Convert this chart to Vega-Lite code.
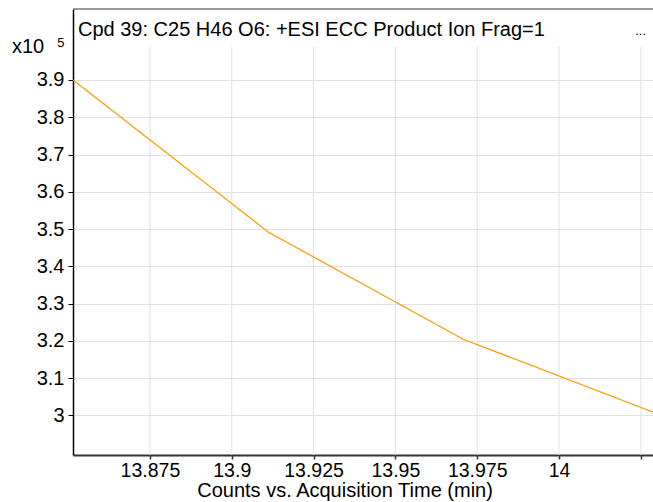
{
  "$schema": "https://vega.github.io/schema/vega-lite/v6.json",
  "width": 580,
  "height": 446,
  "autosize": {"type": "none"},
  "padding": {"left": 73, "top": 9, "right": 0, "bottom": 47},
  "background": "white",
  "config": {"view": {"stroke": null}, "font": "Liberation Sans"},
  "datasets": {
    "trace": [
      {"time": 13.8515, "counts": 390000},
      {"time": 13.9111, "counts": 349200},
      {"time": 13.9707, "counts": 320400},
      {"time": 14.0303, "counts": 300300}
    ],
    "xticks": [
      {"time": 13.875}, {"time": 13.9}, {"time": 13.925}, {"time": 13.95},
      {"time": 13.975}, {"time": 14.0}, {"time": 14.025}
    ]
  },
  "layer": [
    {
      "data": {"name": "xticks"},
      "mark": {"type": "rule", "color": "#e2e2e2", "strokeWidth": 1},
      "encoding": {
        "x": {"field": "time", "type": "quantitative",
              "scale": {"domain": [13.8515, 14.0287], "nice": false, "zero": false}},
        "y": {"datum": 289330, "type": "quantitative",
              "scale": {"domain": [289330, 409060], "nice": false, "zero": false}},
        "y2": {"datum": 398900}
      }
    },
    {
      "data": {"name": "trace"},
      "mark": {"type": "line", "color": "#ff9900", "strokeWidth": 1.2, "clip": true},
      "encoding": {
        "x": {
          "field": "time", "type": "quantitative",
          "scale": {"domain": [13.8515, 14.0287], "nice": false, "zero": false},
          "axis": {
            "values": [13.875, 13.9, 13.925, 13.95, 13.975, 14.0, 14.025],
            "labelExpr": "datum.value > 14.01 ? '' : format(datum.value, '.3~f')",
            "grid": false,
            "domainColor": "#333333", "domainWidth": 2,
            "tickColor": "#333333", "tickSize": 4, "tickWidth": 1.5,
            "labelFontSize": 19.5, "labelColor": "#000000", "labelPadding": 2,
            "labelFlush": false, "labelOverlap": false,
            "title": "Counts vs. Acquisition Time (min)",
            "titleFontSize": 20, "titleFontWeight": "normal", "titleColor": "#000000",
            "titleX": 123.7, "titleY": 41.5, "titleAlign": "left", "titleBaseline": "alphabetic"
          }
        },
        "y": {
          "field": "counts", "type": "quantitative",
          "scale": {"domain": [289330, 409060], "nice": false, "zero": false},
          "axis": {
            "values": [300000, 310000, 320000, 330000, 340000, 350000, 360000, 370000, 380000, 390000],
            "labelExpr": "format(datum.value / 100000, '.1~f')",
            "grid": true, "gridColor": "#e2e2e2", "gridWidth": 1,
            "domainColor": "#000000", "domainWidth": 1.5,
            "tickColor": "#000000", "tickSize": 5, "tickWidth": 1,
            "labelFontSize": 20, "labelColor": "#000000", "labelPadding": 4,
            "labelFlush": false, "labelOverlap": false,
            "title": "x10", "titleAngle": 0,
            "titleFontSize": 20, "titleFontWeight": "normal", "titleColor": "#000000",
            "titleX": -61.5, "titleY": 43.7, "titleAlign": "left", "titleBaseline": "alphabetic"
          }
        }
      }
    },
    {
      "data": {"values": [{}]},
      "mark": {"type": "rule", "color": "#777777", "strokeWidth": 1.5},
      "encoding": {
        "y": {"datum": 409060, "type": "quantitative",
              "scale": {"domain": [289330, 409060], "nice": false, "zero": false}}
      }
    },
    {
      "data": {"values": [{}]},
      "mark": {"type": "text", "align": "left", "baseline": "alphabetic", "fontSize": 20, "dx": 5, "color": "#000000"},
      "encoding": {
        "x": {"datum": 13.8515, "type": "quantitative",
              "scale": {"domain": [13.8515, 14.0287], "nice": false, "zero": false}},
        "y": {"datum": 401810, "type": "quantitative",
              "scale": {"domain": [289330, 409060], "nice": false, "zero": false}},
        "text": {"value": "Cpd 39: C25 H46 O6: +ESI ECC Product Ion Frag=1"}
      }
    },
    {
      "data": {"values": [{}]},
      "mark": {"type": "text", "align": "right", "baseline": "alphabetic", "fontSize": 13, "dx": -7, "color": "#000000"},
      "encoding": {
        "x": {"datum": 14.0287, "type": "quantitative",
              "scale": {"domain": [13.8515, 14.0287], "nice": false, "zero": false}},
        "y": {"datum": 401950, "type": "quantitative",
              "scale": {"domain": [289330, 409060], "nice": false, "zero": false}},
        "text": {"value": "..."}
      }
    },
    {
      "data": {"values": [{}]},
      "mark": {"type": "text", "align": "left", "baseline": "alphabetic", "fontSize": 13, "dx": -15.7, "color": "#000000"},
      "encoding": {
        "x": {"datum": 13.8515, "type": "quantitative",
              "scale": {"domain": [13.8515, 14.0287], "nice": false, "zero": false}},
        "y": {"datum": 398940, "type": "quantitative",
              "scale": {"domain": [289330, 409060], "nice": false, "zero": false}},
        "text": {"value": "5"}
      }
    }
  ]
}
